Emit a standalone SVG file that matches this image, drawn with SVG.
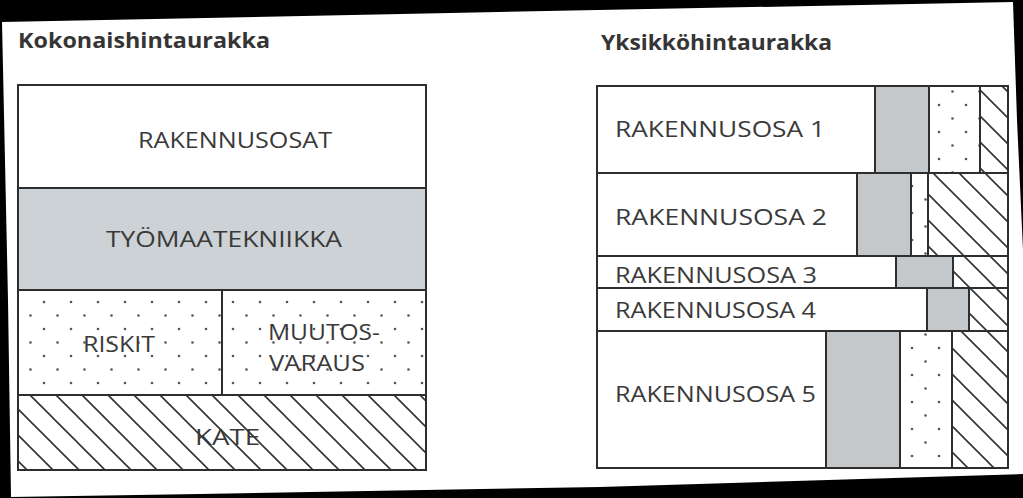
<svg xmlns="http://www.w3.org/2000/svg" width="1023" height="498" viewBox="0 0 1023 498">
<style>
.lbl{font-family:"Open Sans","Liberation Sans",sans-serif;font-size:22.5px;fill:#3a3a3a}
.ttl{font-family:"Open Sans","Liberation Sans",sans-serif;font-size:21px;font-weight:bold;fill:#353535}
.cell{stroke:#2e2e2e;stroke-width:2}
.w{fill:#ffffff}
.gl{fill:#ccd2d5}
.gr{fill:#c5c8cb}
</style>
<defs>
<pattern id="dotsL" patternUnits="userSpaceOnUse" x="41" y="299" width="27" height="27">
<rect width="27" height="27" fill="#ffffff"/>
<circle cx="3" cy="3" r="1.3" fill="#555"/>
<circle cx="16.5" cy="16.5" r="1.3" fill="#555"/>
</pattern>
<pattern id="dotsR" patternUnits="userSpaceOnUse" x="909" y="345" width="27" height="27">
<rect width="27" height="27" fill="#ffffff"/>
<circle cx="3" cy="3" r="1.3" fill="#555"/>
<circle cx="16.5" cy="16.5" r="1.3" fill="#555"/>
</pattern>
<pattern id="hatchL" patternUnits="userSpaceOnUse" x="0" y="1" width="26" height="26">
<rect width="26" height="26" fill="#ffffff"/>
<path d="M-2,-2 L28,28 M-2,24 L2,28 M24,-2 L28,2" stroke="#333" stroke-width="1.6" fill="none"/>
</pattern>
<pattern id="hatchR" patternUnits="userSpaceOnUse" x="0" y="20" width="26" height="26">
<rect width="26" height="26" fill="#ffffff"/>
<path d="M-2,-2 L28,28 M-2,24 L2,28 M24,-2 L28,2" stroke="#333" stroke-width="1.6" fill="none"/>
</pattern>
</defs>
<rect x="0" y="0" width="1023" height="498" fill="#000"/>
<polygon points="2,22 450,13 1013,2 1017,120 1023,250 1023,474 600,487 200,494 11,497 8,300" fill="#ffffff"/>

<g id="title-left"><text class="ttl" x="18" y="48" textLength="252" lengthAdjust="spacingAndGlyphs">Kokonaishintaurakka</text></g>
<g id="title-right"><text class="ttl" x="601" y="50" textLength="231" lengthAdjust="spacingAndGlyphs">Yksikköhintaurakka</text></g>

<g id="left-rakennusosat">
<rect class="cell w" x="18" y="85" width="408" height="103"/>
<text class="lbl" x="138" y="148" textLength="194" lengthAdjust="spacingAndGlyphs">RAKENNUSOSAT</text>
</g>
<g id="left-tyomaatekniikka">
<rect class="cell gl" x="18" y="188" width="408" height="102"/>
<text class="lbl" x="106" y="247" textLength="236" lengthAdjust="spacingAndGlyphs">TYÖMAATEKNIIKKA</text>
</g>
<g id="left-riskit">
<rect class="cell" x="18" y="290" width="204" height="105" fill="url(#dotsL)"/>
<text class="lbl" x="83" y="352" textLength="72" lengthAdjust="spacingAndGlyphs">RISKIT</text>
</g>
<g id="left-muutosvaraus">
<rect class="cell" x="222" y="290" width="204" height="105" fill="url(#dotsL)"/>
<text class="lbl" x="268" y="340" textLength="112" lengthAdjust="spacingAndGlyphs">MUUTOS-</text>
<text class="lbl" x="269" y="371" textLength="96" lengthAdjust="spacingAndGlyphs">VARAUS</text>
</g>
<g id="left-kate">
<rect class="cell" x="18" y="395" width="408" height="75" fill="url(#hatchL)"/>
<text class="lbl" x="195" y="445" textLength="65" lengthAdjust="spacingAndGlyphs">KATE</text>
</g>

<g id="right-row1">
<rect class="cell w" x="597" y="86" width="278" height="87"/>
<rect class="cell gr" x="875" y="86" width="54" height="87"/>
<rect class="cell" x="929" y="86" width="51" height="87" fill="url(#dotsR)"/>
<rect class="cell" x="980" y="86" width="28" height="87" fill="url(#hatchR)"/>
<text class="lbl" x="615" y="137" textLength="210" lengthAdjust="spacingAndGlyphs">RAKENNUSOSA 1</text>
</g>
<g id="right-row2">
<rect class="cell w" x="597" y="173" width="260" height="83"/>
<rect class="cell gr" x="857" y="173" width="54" height="83"/>
<rect class="cell" x="911" y="173" width="17" height="83" fill="url(#dotsR)"/>
<rect class="cell" x="928" y="173" width="80" height="83" fill="url(#hatchR)"/>
<text class="lbl" x="615" y="225" textLength="212" lengthAdjust="spacingAndGlyphs">RAKENNUSOSA 2</text>
</g>
<g id="right-row3">
<rect class="cell w" x="597" y="256" width="299" height="32"/>
<rect class="cell gr" x="896" y="256" width="57" height="32"/>
<rect class="cell" x="953" y="256" width="55" height="32" fill="url(#hatchR)"/>
<text class="lbl" x="615" y="283" textLength="202" lengthAdjust="spacingAndGlyphs">RAKENNUSOSA 3</text>
</g>
<g id="right-row4">
<rect class="cell w" x="597" y="288" width="330" height="43"/>
<rect class="cell gr" x="927" y="288" width="42" height="43"/>
<rect class="cell" x="969" y="288" width="39" height="43" fill="url(#hatchR)"/>
<text class="lbl" x="615" y="318" textLength="201" lengthAdjust="spacingAndGlyphs">RAKENNUSOSA 4</text>
</g>
<g id="right-row5">
<rect class="cell w" x="597" y="331" width="229" height="137"/>
<rect class="cell gr" x="826" y="331" width="74" height="137"/>
<rect class="cell" x="900" y="331" width="52" height="137" fill="url(#dotsR)"/>
<rect class="cell" x="952" y="331" width="56" height="137" fill="url(#hatchR)"/>
<text class="lbl" x="615" y="402" textLength="201" lengthAdjust="spacingAndGlyphs">RAKENNUSOSA 5</text>
</g>
<g id="connectors"/>
</svg>
